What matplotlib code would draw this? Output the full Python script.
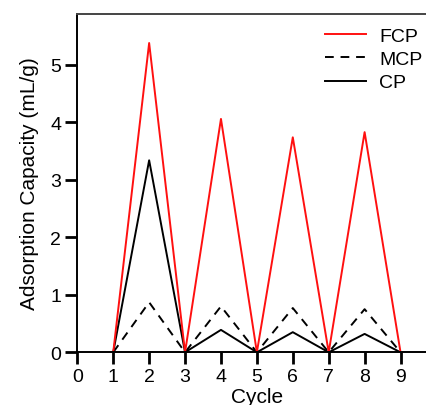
import matplotlib
matplotlib.use("Agg")
import matplotlib.pyplot as plt

plt.rcParams['font.family'] = ['Liberation Sans', 'DejaVu Sans']

cycles = [1, 2, 3, 4, 5, 6, 7, 8, 9]
fcp = [0, 5.38, 0, 4.06, 0, 3.74, 0, 3.83, 0]
mcp = [0, 0.87, 0, 0.80, 0, 0.77, 0, 0.75, 0]
cp = [0, 3.34, 0, 0.39, 0, 0.35, 0, 0.32, 0]

x_ticks = list(range(0, 10))
y_ticks = list(range(0, 6))

fig = plt.figure(figsize=(4.26, 4.06), dpi=100)
ax = fig.add_axes([0.1815, 0.1298, 0.843, 0.834])

l_cp, = ax.plot(cycles, cp, color='black', lw=1.4, label='CP')
l_mcp, = ax.plot(cycles, mcp, color='black', lw=1.4, dashes=(4.5, 3.5), label='MCP')
l_fcp, = ax.plot(cycles, fcp, color='#ff1010', lw=1.4, label='FCP')

ax.set_xlim(0, 10)
ax.set_ylim(0, 5.89)
ax.set_xticks(x_ticks)
ax.set_yticks(y_ticks)
ax.tick_params(direction='out', length=8.5, width=2.0, labelsize=14, pad=3)

for side in ['left', 'top', 'bottom']:
    ax.spines[side].set_linewidth(1.4)
ax.spines['top'].set_color('#444444')
ax.spines['right'].set_visible(False)

ax.set_xlabel('Cycle', fontsize=15, labelpad=1)
ax.set_ylabel('Adsorption Capacity (mL/g)', fontsize=15, labelpad=8)

fig.legend(handles=[l_fcp, l_mcp, l_cp], loc='upper left',
           bbox_to_anchor=(325 / 426, 1 - 28 / 406), frameon=False,
           fontsize=14, handlelength=2.1, handletextpad=0.7,
           labelspacing=0.3, borderpad=0, borderaxespad=0)

fig.savefig('out.png', dpi=100)
